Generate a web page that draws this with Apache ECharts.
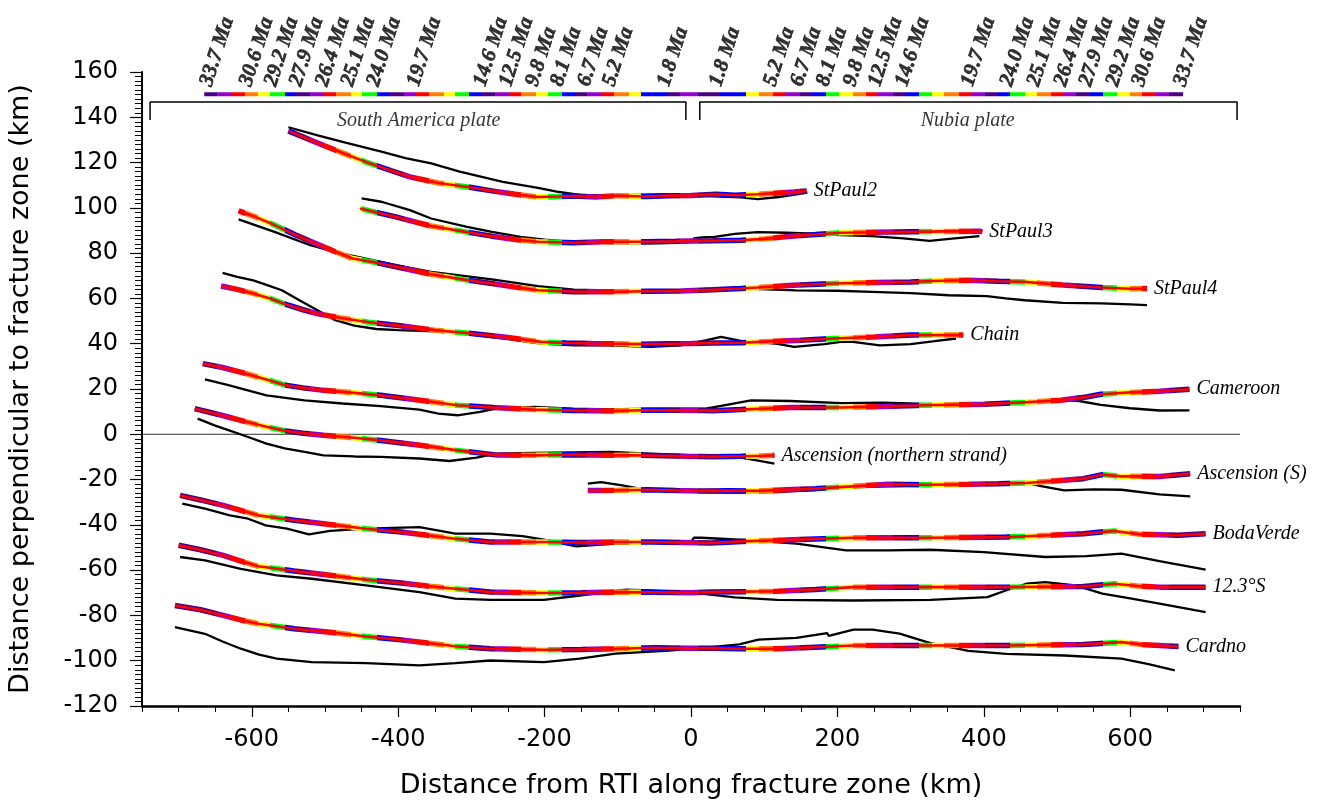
<!DOCTYPE html>
<html>
<head>
<meta charset="utf-8">
<title>Fracture zone flowlines</title>
<script src="https://cdn.jsdelivr.net/npm/echarts@6/dist/echarts.min.js"></script>
<style>
  html, body { margin: 0; padding: 0; background: #fff; }
  #chart { width: 1319px; height: 807px; }
</style>
</head>
<body>
<div id="chart"></div>
<script>
// axis ticks
const xMajorTicks = [-600, -400, -200, 0, 200, 400, 600];
const xMinorTicks = [-750, -700, -650, -600, -550, -500, -450, -400, -350, -300, -250, -200, -150, -100, -50, 0,
  50, 100, 150, 200, 250, 300, 350, 400, 450, 500, 550, 600, 650, 700, 750];

// age colour bar (km along the fracture zone) and its chron labels
const barEdges = [-665, -648, -629, -609, -592, -575, -555, -539, -521, -502, -485, -465, -449, -429, -412, -392,
  -375, -358, -338, -322, -303, -285, -268, -248, -232, -212, -195, -176, -158, -142, -122, -105, -85, -68, -31, -15,
  9.5, 39, 75.6, 92.6, 111.9, 129, 148.7, 165.6, 185.1, 202.2, 221.7, 238.7, 255.8, 275.3, 292.4, 311.9, 328.8,
  346, 365.5, 382.5, 401.9, 418.8, 436, 455.7, 472.6, 492, 509, 526, 545.7, 562.8, 582.3, 599.3, 616.4, 635.7, 653, 672.3];
const barColorKeys = ('IPROYGBIPROYGBIPROYGBIPROYGBIPROYBIP' + 'IBYORPIBGYORPIBGYORPIBGYORPIBGYORPI').split('');
const barY = 150.2;

const ageLabelsLeftX = [-648, -594, -560, -526, -490, -455, -420, -365, -274, -239, -203, -169, -132, -98, -23];
const ageLabelsLeftText = ['33.7 Ma', '30.6 Ma', '29.2 Ma', '27.9 Ma', '26.4 Ma', '25.1 Ma', '24.0 Ma', '19.7 Ma',
  '14.6 Ma', '12.5 Ma', '9.8 Ma', '8.1 Ma', '6.7 Ma', '5.2 Ma', '1.8 Ma'];
const ageLabelsRightX = [48, 122, 159, 194, 231, 265, 302, 392, 445, 482, 519, 553, 590, 625, 682];
const ageLabelsRightText = ['1.8 Ma', '5.2 Ma', '6.7 Ma', '8.1 Ma', '9.8 Ma', '12.5 Ma', '14.6 Ma', '19.7 Ma',
  '24.0 Ma', '25.1 Ma', '26.4 Ma', '27.9 Ma', '29.2 Ma', '30.6 Ma', '33.7 Ma'];
const ageLabelY = 152.4;

// plate brackets
const southAmericaBracket = [[-739, 138.8], [-739, 146.7], [-7, 146.7], [-7, 138.8]];
const nubiaBracket = [[12, 138.8], [12, 146.7], [746, 146.7], [746, 138.8]];
const plateNames = ['South America plate', 'Nubia plate'];
const plateLabelX = [-372, 378];
const plateLabelY = 138.4;

const zeroLine = [[-750, 0], [750, 0]];

// fracture zones: observed trace (black) and predicted flowline (age coloured)
const stPaul2Obs = [[-550, 135.6], [-510, 132], [-472, 128.8], [-423, 124.8], [-390, 122], [-355, 119.6], [-316, 116],
  [-257, 111.5], [-209, 108.8], [-180, 107], [-150, 105.6], [-100, 105.6], [-60, 105.8], [-23, 106], [0, 105.6],
  [40, 105], [68, 104.6], [91, 103.9], [120, 104.8], [159, 106.7]];
const stPaul2Model = [[-550, 134], [-520, 130], [-500, 127.3], [-470, 123.5], [-442, 120], [-410, 116.5], [-384, 113.7],
  [-345, 111], [-300, 109], [-272, 107.5], [-240, 106], [-209, 104.8], [-180, 105], [-160, 105.2], [-130, 104.8],
  [-100, 105.4], [-63, 105], [-30, 105.4], [0, 105.5], [35, 106], [60, 105.6], [91, 106], [120, 106.6], [140, 107],
  [158, 107.5]];

const stPaul3Obs = [[-450, 104.2], [-423, 102.7], [-384, 99], [-355, 95.3], [-306, 91.6], [-272, 89.4], [-233, 87.2],
  [-200, 86], [-160, 85], [-120, 84.5], [-63, 84.3], [-20, 84.5], [2, 85], [4, 86.5], [15, 87], [32, 87.2], [60, 88.5],
  [91, 89.3], [130, 89], [159, 88.7], [205, 88], [247, 87.5], [290, 86.5], [326, 85.4], [360, 86.5], [394, 87.5]];
const stPaul3Model = [[-452, 99.7], [-430, 98], [-403, 96], [-380, 94], [-355, 92], [-310, 89.5], [-272, 87.5],
  [-240, 86], [-209, 85], [-160, 84.6], [-120, 85], [-63, 85], [-20, 85.2], [0, 85.4], [30, 85.5], [68, 85.7],
  [100, 86.3], [136, 87.5], [170, 88.2], [205, 89], [250, 89.2], [300, 89.4], [350, 89.6], [394, 89.7], [398, 89.4]];

const stPaul4Obs = [[-618, 94.9], [-569, 89.4], [-520, 83.5], [-482, 80.1], [-452, 78.1], [-403, 74.7], [-355, 71.7],
  [-272, 68.4], [-209, 65.4], [-160, 63.9], [-110, 63.6], [-63, 63.6], [-14, 63.6], [35, 64.4], [65, 64.4],
  [143, 63.6], [200, 63.4], [247, 62.9], [300, 62.3], [352, 61.4], [404, 61], [430, 60], [456, 59.2], [508, 58],
  [561, 57.8], [600, 57.4], [623, 57]];
const stPaul4Model = [[-618, 98.7], [-595, 96], [-569, 92.4], [-540, 88], [-511, 84], [-485, 80.5], [-462, 77.6],
  [-430, 75.8], [-403, 74], [-355, 70.7], [-310, 68.3], [-272, 66.6], [-240, 65], [-209, 63.6], [-160, 63],
  [-111, 62.9], [-60, 63.2], [-14, 63.3], [30, 63.8], [68, 64.4], [91, 64.8], [140, 65.8], [195, 66.6], [250, 67],
  [300, 67.3], [340, 67.8], [378, 68], [420, 67.6], [456, 67.3], [508, 65.9], [561, 64.8], [600, 64.3], [623, 64.4]];

const chainObs = [[-640, 71.3], [-620, 69.5], [-598, 68], [-580, 66], [-559, 63.6], [-535, 59.2], [-506, 54],
  [-486, 50.4], [-460, 48], [-430, 46.5], [-400, 46], [-350, 45.5], [-300, 44], [-250, 42], [-205, 40.1],
  [-160, 39.3], [-114, 39.3], [-55, 38.6], [-14, 39.3], [20, 41.5], [41, 43], [68, 41.2], [91, 40.8], [114, 40.1],
  [141, 38.6], [182, 39.8], [205, 40.8], [221, 40.8], [258, 39.3], [300, 39.8], [330, 41], [362, 42.3]];
const chainModel = [[-642, 65.5], [-620, 64], [-598, 62.2], [-575, 60], [-550, 57], [-530, 55], [-511, 53.3],
  [-480, 51.5], [-440, 49.5], [-400, 48], [-350, 46], [-300, 44.5], [-250, 42.8], [-205, 40.8], [-170, 40.3],
  [-136, 40.1], [-100, 40], [-68, 39.8], [-30, 40], [0, 40.1], [30, 40.3], [68, 40.4], [91, 40.8], [150, 41.5],
  [195, 42.3], [250, 43], [300, 43.8], [340, 43.8], [372, 43.8]];

const cameroonObs = [[-664, 24.2], [-632, 21.7], [-580, 17.2], [-528, 15], [-476, 13.6], [-424, 12.4], [-371, 10.9],
  [-345, 9.1], [-319, 8.4], [-288, 9.9], [-267, 11.3], [-215, 12.1], [-162, 11.3], [-110, 11], [-58, 11.3],
  [20, 11.3], [45, 12.8], [82, 15], [136, 14.7], [205, 13.8], [260, 14], [300, 13.6], [340, 13], [400, 13.3],
  [450, 14.5], [500, 15.3], [530, 14.7], [560, 13], [600, 11.5], [640, 10.5], [681, 10.6]];
const cameroonModel = [[-667, 31.2], [-640, 29.5], [-610, 27], [-580, 24.2], [-554, 21.7], [-530, 20.5],
  [-502, 19.4], [-460, 18.3], [-424, 17.2], [-370, 15], [-319, 12.8], [-270, 11.8], [-215, 10.9], [-160, 10.5],
  [-110, 10.3], [-68, 10.6], [-6, 10.6], [30, 10.4], [68, 10.9], [136, 11.8], [205, 11.8], [260, 12.3], [320, 12.8],
  [400, 13.3], [460, 14.2], [505, 15], [540, 16.5], [560, 17.7], [600, 18.5], [640, 19], [681, 19.9]];

const ascensionNObs = [[-674, 6.9], [-650, 3.8], [-632, 1.8], [-605, -1.2], [-580, -4.1], [-555, -6.2], [-528, -7.8],
  [-502, -9.3], [-460, -9.8], [-424, -10], [-371, -10.7], [-330, -11.8], [-293, -10.3], [-267, -8.5], [-215, -8.2],
  [-160, -8], [-110, -7.8], [-58, -8.5], [0, -9.3], [46, -10], [68, -10.3], [90, -11.5], [114, -13]];
const ascensionNModel = [[-678, 11.3], [-640, 8.3], [-606, 5.4], [-580, 3.3], [-554, 1.5], [-530, 0.5], [-502, -0.4],
  [-460, -1.5], [-424, -2.7], [-370, -4.8], [-319, -7.1], [-267, -9.1], [-215, -9.3], [-160, -9], [-110, -9.3],
  [-68, -9.3], [-6, -9.7], [30, -9.9], [68, -9.7], [100, -9.5], [114, -9.3]];

const ascensionSObs = [[-141, -21.8], [-123, -21.1], [-96, -22.5], [-70, -24], [-40, -24.8], [14, -25.5], [60, -25.8],
  [118, -25.5], [170, -24.5], [222, -23.3], [300, -22.8], [379, -22.5], [458, -21.5], [480, -23], [510, -24.8],
  [550, -24.3], [588, -24.5], [640, -26.5], [682, -27.4]];
const ascensionSModel = [[-141, -24.8], [-100, -24.7], [-58, -24.5], [-20, -24.8], [14, -25], [50, -24.9], [92, -25],
  [130, -24.5], [170, -24], [220, -23], [270, -22.1], [320, -22.3], [379, -22.1], [420, -21.8], [458, -21.5],
  [500, -20.5], [536, -19.6], [562, -17.8], [588, -18.6], [620, -18.5], [640, -18.6], [682, -17.4]];

const bodaVerdeObs = [[-695, -30.6], [-664, -32.8], [-630, -35.8], [-605, -37.3], [-581, -40.2], [-552, -41.7],
  [-522, -44.2], [-493, -42.7], [-444, -41.7], [-371, -41], [-322, -43.9], [-274, -43.9], [-230, -45], [-201, -46.5],
  [-157, -49.5], [-103, -48.3], [-55, -48], [0, -47.5], [4, -45.7], [14, -45.7], [80, -46.8], [144, -48.3],
  [212, -51.3], [270, -51.3], [327, -51], [400, -52], [484, -54.2], [540, -53.8], [588, -52.7], [640, -56], [703, -59.8]];
const bodaVerdeModel = [[-698, -27], [-670, -29], [-639, -31.4], [-615, -33.6], [-591, -35.8], [-542, -38],
  [-493, -39.8], [-444, -41.7], [-396, -43.2], [-360, -44.6], [-322, -46.1], [-274, -47.6], [-200, -47.6],
  [-150, -47.8], [-103, -47.6], [-55, -47.6], [-10, -47.8], [27, -48], [70, -47.3], [118, -46.8], [170, -46.2],
  [222, -45.7], [327, -45.7], [431, -45.4], [490, -44.6], [536, -43.9], [560, -43.2], [578, -42.7], [614, -44.2],
  [666, -44.6], [703, -43.9]];

const s123Obs = [[-698, -54.2], [-664, -55.7], [-615, -59.4], [-566, -62.3], [-518, -63.8], [-444, -66.7],
  [-371, -69.7], [-322, -72.6], [-274, -73.1], [-201, -73.1], [-152, -71.2], [-89, -68.6], [-55, -69], [0, -70],
  [14, -70.4], [60, -72], [118, -73.1], [222, -73.4], [327, -73.1], [405, -71.9], [430, -69], [458, -66],
  [484, -65.3], [525, -66.7], [562, -70.4], [600, -72.5], [640, -74.8], [703, -78.5]];
const s123Model = [[-700, -49], [-670, -51], [-639, -53.5], [-615, -56], [-591, -58.3], [-542, -60.4], [-493, -62.3],
  [-444, -64.2], [-396, -65.7], [-360, -67], [-322, -68.2], [-274, -69.7], [-201, -70.1], [-150, -70], [-103, -69.7],
  [-50, -69.8], [0, -70], [27, -69.7], [70, -69.5], [118, -69.3], [170, -68.5], [222, -67.5], [327, -67.5],
  [431, -67.5], [536, -67.2], [578, -66], [610, -67], [640, -67.5], [703, -67.5]];

const cardnoObs = [[-705, -85.2], [-664, -88.1], [-640, -91.5], [-615, -94.7], [-590, -97.3], [-566, -99.1],
  [-518, -100.6], [-444, -101.1], [-371, -102.1], [-322, -101.1], [-274, -99.9], [-201, -100.6], [-152, -99.1],
  [-103, -96.9], [-30, -95.5], [27, -94], [66, -92.8], [92, -90.7], [144, -89.9], [186, -87.8], [188, -89],
  [191, -88.8], [222, -86.3], [248, -86.3], [285, -88], [327, -92.2], [379, -95.7], [431, -97], [510, -97.7],
  [588, -99.1], [625, -101.5], [661, -104.3]];
const cardnoModel = [[-705, -75.6], [-670, -77.5], [-639, -80], [-615, -82], [-591, -83.7], [-542, -85.9],
  [-493, -87.4], [-444, -89.3], [-396, -90.8], [-360, -92.2], [-322, -93.6], [-274, -94.7], [-201, -95.2],
  [-150, -95], [-103, -94.7], [-50, -94.3], [0, -94.5], [27, -94.5], [70, -94.7], [118, -94.7], [170, -94],
  [222, -93.3], [327, -93.3], [431, -93.3], [536, -92.8], [588, -91.8], [620, -93], [666, -93.7]];

const zones = [
  { name: 'StPaul2', obs: stPaul2Obs, model: stPaul2Model },
  { name: 'StPaul3', obs: stPaul3Obs, model: stPaul3Model },
  { name: 'StPaul4', obs: stPaul4Obs, model: stPaul4Model },
  { name: 'Chain', obs: chainObs, model: chainModel },
  { name: 'Cameroon', obs: cameroonObs, model: cameroonModel },
  { name: 'Ascension (northern strand)', obs: ascensionNObs, model: ascensionNModel },
  { name: 'Ascension (S)', obs: ascensionSObs, model: ascensionSModel },
  { name: 'BodaVerde', obs: bodaVerdeObs, model: bodaVerdeModel },
  { name: '12.3°S', obs: s123Obs, model: s123Model },
  { name: 'Cardno', obs: cardnoObs, model: cardnoModel }
];

const AGE_COLORS = { I: '#4B0082', P: '#9400D3', R: '#FF0000', O: '#FF8000', Y: '#FFFF00', G: '#00FF00', B: '#0000FF' };
const SANS = 'DejaVu Sans';
const SERIF = '"Liberation Serif", serif';

const pieces = barColorKeys.map((k, i) => {
  const p = { color: AGE_COLORS[k] };
  if (i > 0) p.gte = barEdges[i];
  if (i < barColorKeys.length - 1) p.lt = barEdges[i + 1];
  return p;
});

const series = [];
const colouredIdx = [];

series.push({
  type: 'line', data: zeroLine, symbol: 'none', silent: true,
  lineStyle: { color: '#333', width: 1 }
});

zones.forEach(z => {
  series.push({
    name: z.name + ' observed', type: 'line', data: z.obs, symbol: 'none', silent: true,
    lineStyle: { color: '#000', width: 2.3 }
  });
});

zones.forEach(z => {
  colouredIdx.push(series.length);
  series.push({
    name: z.name + ' age', type: 'line', data: z.model, symbol: 'none', silent: true,
    lineStyle: { width: 5.5 }
  });
  series.push({
    name: z.name, type: 'line', data: z.model, symbol: 'none', silent: true,
    lineStyle: { color: '#FF0000', width: 2.6 },
    endLabel: {
      show: true, formatter: z.name, distance: 7, color: '#000',
      fontFamily: SERIF, fontStyle: 'italic', fontSize: 20
    }
  });
});

colouredIdx.push(series.length);
series.push({
  name: 'age bar', type: 'line', data: barEdges.map(x => [x, barY]), symbol: 'none', silent: true,
  lineStyle: { width: 4, cap: 'butt' }
});

[southAmericaBracket, nubiaBracket].forEach(b => {
  series.push({
    type: 'line', data: b, symbol: 'none', silent: true,
    lineStyle: { color: '#000', width: 1.5 }
  });
});

series.push({
  type: 'scatter', symbolSize: 1, silent: true, itemStyle: { color: 'rgba(0,0,0,0)' },
  data: plateNames.map((n, i) => ({ name: n, value: [plateLabelX[i], plateLabelY] })),
  label: {
    show: true, position: 'inside', formatter: '{b}', color: '#000',
    fontFamily: SERIF, fontStyle: 'italic', fontSize: 20
  }
});

const ageData = ageLabelsLeftX.map((x, i) => ({ name: ageLabelsLeftText[i], value: [x, ageLabelY] }))
  .concat(ageLabelsRightX.map((x, i) => ({ name: ageLabelsRightText[i], value: [x, ageLabelY] })));
series.push({
  type: 'scatter', symbolSize: 1, silent: true, itemStyle: { color: 'rgba(0,0,0,0)' },
  data: ageData,
  label: {
    show: true, position: [0, 0], align: 'left', verticalAlign: 'bottom', rotate: 72,
    formatter: '{b}', color: '#000', fontFamily: SERIF, fontStyle: 'italic', fontWeight: 'bold', fontSize: 21,
    textBorderColor: '#000', textBorderWidth: 0.6
  }
});

const chart = echarts.init(document.getElementById('chart'));
chart.setOption({
  animation: false,
  backgroundColor: '#fff',
  grid: { left: 142, right: 79, top: 72, bottom: 101, outerBoundsMode: 'none', containLabel: false },
  visualMap: {
    type: 'piecewise', show: false, dimension: 0, seriesIndex: colouredIdx, pieces: pieces
  },
  xAxis: [{
    type: 'value', min: -750, max: 750,
    name: 'Distance from RTI along fracture zone (km)', nameLocation: 'middle', nameGap: 66,
    nameTextStyle: { fontFamily: SANS, fontSize: 27, color: '#000' },
    axisLine: { onZero: false, lineStyle: { color: '#000', width: 2.5 } },
    axisTick: { customValues: xMajorTicks, length: 11, lineStyle: { color: '#000', width: 1.2 } },
    axisLabel: { customValues: xMajorTicks, fontFamily: SANS, fontSize: 24, color: '#000', margin: 22 },
    splitLine: { show: false }
  }, {
    type: 'value', min: -750, max: 750, position: 'bottom',
    axisLine: { show: false, onZero: false },
    axisTick: { customValues: xMinorTicks, length: 6, lineStyle: { color: '#000', width: 1 } },
    axisLabel: { show: false },
    splitLine: { show: false }
  }],
  yAxis: {
    type: 'value', min: -120, max: 160, interval: 20,
    name: 'Distance perpendicular to fracture zone (km)', nameLocation: 'middle', nameGap: 108,
    nameTextStyle: { fontFamily: SANS, fontSize: 27, color: '#000' },
    axisLine: { show: true, onZero: false, lineStyle: { color: '#000', width: 2 } },
    axisTick: { length: 12, lineStyle: { color: '#000', width: 1.2 } },
    minorTick: { show: true, splitNumber: 10, length: 7, lineStyle: { color: '#000', width: 1 } },
    axisLabel: { fontFamily: SANS, fontSize: 24, color: '#000', margin: 24 },
    splitLine: { show: false }
  },
  series: series
});
</script>
</body>
</html>
